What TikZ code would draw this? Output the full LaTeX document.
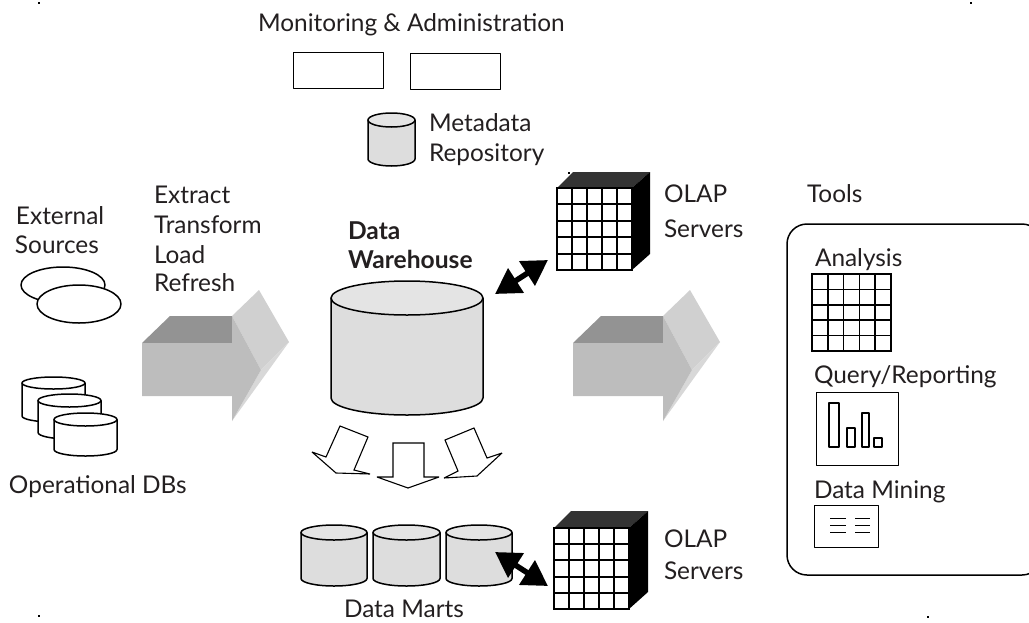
\documentclass[tikz,border=0pt]{standalone}
\usepackage{fontspec}
\setmainfont{Lato}
\usetikzlibrary{arrows.meta}
\definecolor{txt}{HTML}{231F20}
\definecolor{cylbody}{HTML}{DDDDDD}
\definecolor{cyltop}{HTML}{E4E4E4}
\definecolor{afront}{HTML}{BDBDBD}
\definecolor{atop}{HTML}{939393}
\definecolor{alight}{HTML}{D0D0D0}
\definecolor{aside}{HTML}{D8D8D8}
\definecolor{cubetop}{HTML}{333333}
\tikzset{
  x=1pt,y=-1pt,
  lab/.style={anchor=base west,inner sep=0pt,outer sep=0pt,text=txt,yshift=-1pt,font=\fontsize{24.4}{28}\selectfont},
  labb/.style={lab,font=\fontsize{24.6}{28}\selectfont\bfseries},
  ln/.style={draw=black,line width=1.5pt,line join=round},
  thinln/.style={draw=black,line width=1.2pt,line join=round},
  dbl/.style={line width=5.5pt,draw=black,{Triangle[length=25pt,width=28pt,fill=black]}-{Triangle[length=25pt,width=28pt,fill=black]}},
  blockarr/.style={draw=black,line width=1.1pt,fill=white,line join=miter,miter limit=3},
}
% #1 left, #2 right, #3 top, #4 ellipse ry, #5 bottom, #6 body colour, #7 top colour
\newcommand{\cylshape}[7]{%
  \pgfmathsetmacro{\cxm}{(#1+#2)/2}\pgfmathsetmacro{\crx}{(#2-#1)/2}%
  \pgfmathsetmacro{\cty}{#3+#4}\pgfmathsetmacro{\cby}{#5-#4}%
  \path[ln,fill=#6] (#1,\cty) -- (#1,\cby) arc[start angle=180,end angle=360,x radius=\crx,y radius=-#4] -- (#2,\cty) -- cycle;
  \path[ln,fill=#7] (\cxm,\cty) ellipse[x radius=\crx,y radius=#4];
}
\newcommand{\gridshape}[5]{%
  \pgfmathsetmacro{\gdx}{(#2-#1)/5}\pgfmathsetmacro{\gdy}{(#4-#3)/5}%
  \fill[white] (#1,#3) rectangle (#2,#4);
  \foreach \i in {0,...,5}{
    \draw[line width=#5,black,line cap=rect] (#1+\i*\gdx,#3) -- (#1+\i*\gdx,#4);
    \draw[line width=#5,black,line cap=rect] (#1,#3+\i*\gdy) -- (#2,#3+\i*\gdy);
  }
}
% cube: #1 fl, #2 fr, #3 ft, #4 fb, #5 dx, #6 dy
\newcommand{\cubeshape}[6]{%
  \pgfmathsetmacro{\xA}{#1+#5}\pgfmathsetmacro{\xB}{#2+#5+2}\pgfmathsetmacro{\yA}{#3-#6}\pgfmathsetmacro{\yB}{#4-#6}%
  \fill[cubetop] (#1,#3) -- (\xA,\yA) -- (\xB,\yA) -- (#2,#3) -- cycle;
  \fill[black] (#2,#3) -- (\xB,\yA) -- (\xB,\yB) -- (#2,#4) -- cycle;
  \gridshape{#1}{#2}{#3}{#4}{2pt}
}
\begin{document}
\begin{tikzpicture}
\useasboundingbox (0,0) rectangle (1029,622);
\clip (0,0) rectangle (1029,622);
% specks
\foreach \sx/\sy in {39/3,971/3,39/616,928/617,569/173}{
  \fill[black] (\sx-.6,\sy-.6) rectangle (\sx+.6,\sy+.6);
}
% top rects
\node[thinln,minimum width=90pt,minimum height=36pt,inner sep=0pt,anchor=north west] (mona) at (293,52) {};
\node[thinln,minimum width=90pt,minimum height=36pt,inner sep=0pt,anchor=north west] (monb) at (410,53) {};
\node[lab] (tmon) at (258,30) {Monitoring \& Administration};
\cylshape{368}{415}{113}{7}{166}{cylbody}{cyltop}
\node[lab] (tmeta) at (429,130) {Metadata};
\node[lab] (trepo) at (429,160) {Repository};
% left
\node[lab] (text) at (16,223) {External};
\node[lab] (tsrc) at (15,252) {Sources};
\draw[ln,fill=white] (63,285) ellipse[x radius=42,y radius=18];
\draw[ln,fill=white] (79,304) ellipse[x radius=42,y radius=19];
\cylshape{22}{85}{377}{6}{422}{white}{white}
\cylshape{38}{101}{394}{6.5}{439}{white}{white}
\cylshape{54}{117}{413}{6.5}{456}{white}{white}
\node[lab] (tops) at (9,492) {Operational DBs};
\node[lab] (tetl1) at (154,202) {Extract};
\node[lab] (tetl2) at (154,232) {Transform};
\node[lab] (tetl3) at (154,262) {Load};
\node[lab] (tetl4) at (154,290) {Refresh};
% block arrows
\foreach \ox in {0,431}{
\begin{scope}[shift={(\ox,0)}]
\fill[alight] (232,316) -- (259,290) -- (289,342) -- (261,370) -- cycle;
\fill[aside] (261,370) -- (289,342) -- (232,421) -- cycle;
\fill[atop] (142,343) -- (170,316) -- (232,316) -- (232,343) -- cycle;
\fill[afront] (142,343) -- (232,343) -- (232,316) -- (261,370) -- (232,421) -- (232,396) -- (142,396) -- cycle;
\end{scope}}
% warehouse
\cylshape{331}{483}{281}{17}{415}{cylbody}{cyltop}
\node[labb] (tdw1) at (348,238) {Data};
\node[labb] (tdw2) at (348,267) {Warehouse};
% cubes
\cubeshape{557}{632}{188}{270}{16}{16}
\cubeshape{554}{629}{528}{609}{17}{17}
\node[lab] (tol1) at (664,201) {OLAP};
\node[lab] (tol2) at (664,236) {Servers};
\node[lab] (tol3) at (664,546) {OLAP};
\node[lab] (tol4) at (664,578) {Servers};
% down arrows
\draw[blockarr] (393,443) -- (424,443) -- (424,477) -- (439,477) -- (408,488) -- (377,477) -- (393,477) -- cycle;
\draw[blockarr] (340,426) -- (368,437) -- (354,470) -- (370,474) -- (336,473) -- (312,452) -- (326,457) -- cycle;
\draw[blockarr] (445,440) -- (474,428) -- (487,458) -- (502,453) -- (477,476) -- (444,478) -- (458,471) -- cycle;
% marts
\cylshape{301}{367}{525}{7.5}{586}{cylbody}{cyltop}
\cylshape{373}{440}{525}{7.5}{586}{cylbody}{cyltop}
\cylshape{446}{512}{525}{7.5}{586}{cylbody}{cyltop}
\node[lab] (tmart) at (344,616) {Data Marts};
% double arrows
\coordinate (dwport) at (495,294);
\coordinate (cubeaport) at (548,260);
\coordinate (martport) at (495,552);
\coordinate (cubebport) at (548,586);
\draw[dbl] (dwport) -- (cubeaport);
\draw[dbl] (martport) -- (cubebport);
% tools
\node[lab] (ttools) at (807,201) {Tools};
\draw[ln,rounded corners=20pt] (787,224) rectangle (1042,575);
\node[lab] (tana) at (815,265) {Analysis};
\gridshape{812}{891}{274}{351}{1.5pt}
\node[lab] (tqry) at (814,382) {Query/Reporting};
\node[thinln,minimum width=82pt,minimum height=73pt,inner sep=0pt,anchor=north west] (qbox) at (816,392) {};
\draw[thinln] (829,403) rectangle (839,447) (847,428) rectangle (855,447) (862,413) rectangle (869,447) (874,438) rectangle (882,447);
\node[lab] (tmin) at (814,497) {Data Mining};
\node[thinln,minimum width=64pt,minimum height=42pt,inner sep=0pt,anchor=north west] (mbox) at (814,505) {};
\draw[black,line width=.9pt] (830,518) -- (846,518) (830,525) -- (846,525) (830,532) -- (846,532) (855,518) -- (870,518) (855,525) -- (870,525) (855,532) -- (870,532);
\end{tikzpicture}
\end{document}
